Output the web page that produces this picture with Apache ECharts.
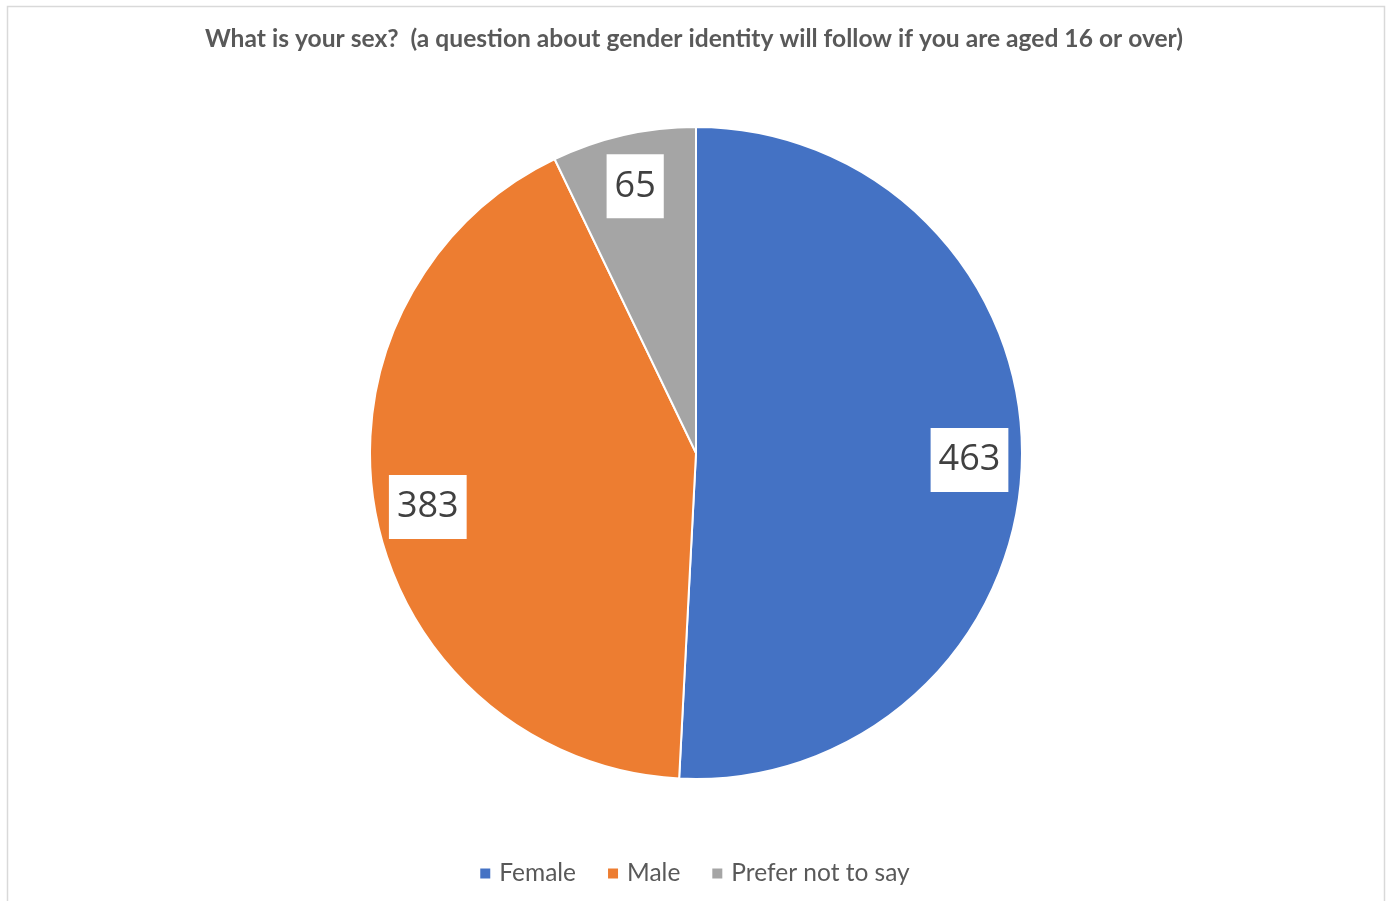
<!DOCTYPE html>
<html>
<head>
<meta charset="utf-8">
<script src="https://cdn.jsdelivr.net/npm/echarts@6/dist/echarts.min.js"></script>
<style>
html,body{margin:0;padding:0;background:#fff;}
#chart{width:1388px;height:901px;}
</style>
</head>
<body>
<div id="chart"></div>
<script>
const titleText = 'What is your sex?  (a question about gender identity will follow if you are aged 16 or over)';
const categories = ['Female', 'Male', 'Prefer not to say'];
const values = [463, 383, 65];
const colors = ['#4472C4', '#ED7D31', '#A5A5A5'];

const data = categories.map((c, i) => ({ name: c, value: values[i], itemStyle: { color: colors[i] } }));
const R = 326;
const C = [696, 453];

const chart = echarts.init(document.getElementById('chart'));
chart.setOption({
  animation: false,
  backgroundColor: '#fff',
  title: {
    text: titleText,
    left: 'center',
    top: 22,
    textStyle: { fontFamily: 'Lato', fontWeight: 'bold', fontSize: 24.6, color: '#595959' }
  },
  legend: {
    top: 856,
    left: 'center',
    icon: 'rect',
    itemWidth: 12,
    itemHeight: 12,
    itemGap: 30,
    data: categories,
    textStyle: { fontFamily: 'Lato', fontSize: 24.5, color: '#595959', padding: [0, 0, 0, 3] }
  },
  graphic: [{
    type: 'rect',
    shape: { x: 7.5, y: 6.5, width: 1377, height: 910 },
    style: { fill: 'none', stroke: '#D9D9D9', lineWidth: 1.5 },
    silent: true,
    z: -10
  }],
  series: [
    {
      type: 'pie',
      center: C,
      radius: [0, R],
      startAngle: 90,
      clockwise: true,
      data: data,
      label: { show: false },
      labelLine: { show: false },
      itemStyle: { borderColor: '#fff', borderWidth: 2 },
      emphasis: { disabled: true }
    },
    {
      type: 'pie',
      center: C,
      radius: [R * 0.66, R],
      startAngle: 90,
      clockwise: true,
      silent: true,
      legendHoverLink: false,
      data: data.map(d => ({ name: d.name, value: d.value, itemStyle: { color: 'rgba(0,0,0,0)' } })),
      itemStyle: { borderWidth: 0 },
      label: {
        show: true,
        position: 'inside',
        formatter: '{c}',
        fontFamily: 'Open Sans',
        fontSize: 36,
        lineHeight: 40,
        color: '#404040',
        backgroundColor: '#fff',
        padding: [12, 8, 12, 8]
      },
      labelLine: { show: false },
      emphasis: { disabled: true }
    }
  ]
});
</script>
</body>
</html>
